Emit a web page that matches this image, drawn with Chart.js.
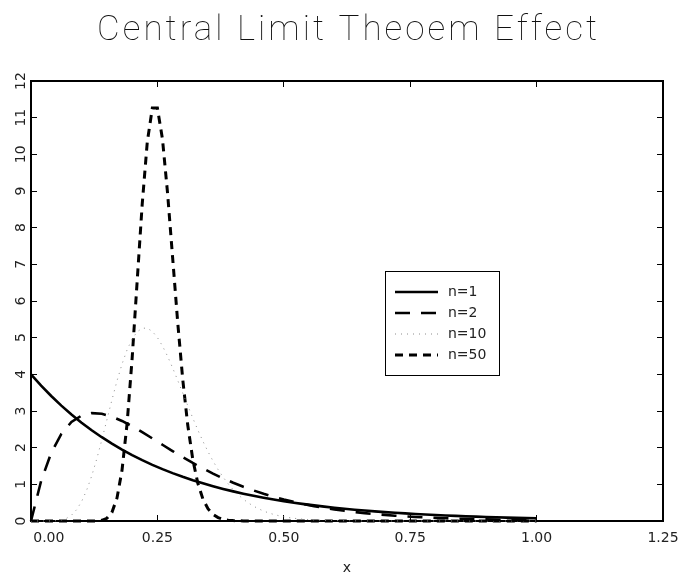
<!DOCTYPE html>
<html>
<head>
<meta charset="utf-8">
<script src="https://cdn.jsdelivr.net/npm/chart.js@4/dist/chart.umd.min.js"></script>
<style>
  html, body { margin: 0; padding: 0; background: #fff; }
  canvas { display: block; }
</style>
</head>
<body>
<canvas id="c" width="679" height="572"></canvas>
<script>
// ---- data ----
const chartTitle = 'Central Limit Theoem Effect';
const xAxisTitle = 'x';
const seriesLabels = ['n=1', 'n=2', 'n=10', 'n=50'];
const xTicks = [0, 0.25, 0.5, 0.75, 1.0, 1.25];
const yTicks = [0,1,2,3,4,5,6,7,8,9,10,11,12];

// x positions used for n=1 and n=2 (step 0.02)
const xCoarse = [0.00,0.02,0.04,0.06,0.08,0.10,0.12,0.14,0.16,0.18,0.20,0.22,0.24,0.26,0.28,0.30,0.32,0.34,0.36,0.38,0.40,0.42,0.44,0.46,0.48,0.50,0.52,0.54,0.56,0.58,0.60,0.62,0.64,0.66,0.68,0.70,0.72,0.74,0.76,0.78,0.80,0.82,0.84,0.86,0.88,0.90,0.92,0.94,0.96,0.98,1.00];
const n1 = [4.000,3.692,3.409,3.147,2.905,2.681,2.475,2.285,2.109,1.947,1.797,1.659,1.532,1.414,1.305,1.205,1.112,1.027,0.948,0.875,0.808,0.745,0.688,0.635,0.586,0.541,0.500,0.461,0.426,0.393,0.363,0.335,0.309,0.285,0.263,0.243,0.225,0.207,0.191,0.177,0.163,0.151,0.139,0.128,0.118,0.109,0.101,0.093,0.086,0.079,0.073];
const n2 = [0.000,1.091,1.859,2.376,2.700,2.876,2.941,2.923,2.847,2.729,2.584,2.422,2.252,2.079,1.908,1.742,1.583,1.433,1.293,1.163,1.043,0.934,0.834,0.742,0.660,0.586,0.520,0.460,0.406,0.359,0.316,0.278,0.245,0.215,0.189,0.166,0.145,0.127,0.111,0.097,0.085,0.074,0.065,0.057,0.049,0.043,0.037,0.033,0.028,0.025,0.021];

// x positions used for n=10 and n=50 (step 0.01 up to 0.70, then 1.00)
const xFine = [0.00,0.01,0.02,0.03,0.04,0.05,0.06,0.07,0.08,0.09,0.10,0.11,0.12,0.13,0.14,0.15,0.16,0.17,0.18,0.19,0.20,0.21,0.22,0.23,0.24,0.25,0.26,0.27,0.28,0.29,0.30,0.31,0.32,0.33,0.34,0.35,0.36,0.37,0.38,0.39,0.40,0.41,0.42,0.43,0.44,0.45,0.46,0.47,0.48,0.49,0.50,0.51,0.52,0.53,0.54,0.55,0.56,0.57,0.58,0.59,0.60,0.61,0.62,0.63,0.64,0.65,0.66,0.67,0.68,0.69,0.70,1.00];
const n10 = [0,0,0,0.0002,0.0015,0.0076,0.026,0.071,0.158,0.306,0.529,0.837,1.227,1.690,2.208,2.754,3.299,3.817,4.279,4.667,4.963,5.161,5.258,5.259,5.170,5.005,4.775,4.496,4.180,3.843,3.495,3.147,2.807,2.482,2.176,1.894,1.636,1.403,1.196,1.013,0.852,0.714,0.594,0.492,0.406,0.333,0.272,0.221,0.179,0.145,0.116,0.093,0.074,0.059,0.047,0.037,0.029,0.023,0.018,0.014,0.011,0.009,0.007,0.005,0.004,0.003,0.002,0.002,0.001,0.001,0.001,0];
const n50 = [0,0,0,0,0,0,0,0,0,0,0,0,0.001,0.004,0.019,0.074,0.235,0.622,1.383,2.650,4.426,6.544,8.650,10.335,11.263,11.263,10.418,8.958,7.204,5.444,3.878,2.616,1.678,1.026,0.600,0.336,0.181,0.094,0.047,0.023,0.011,0.005,0.002,0.001,0,0,0,0,0,0,0,0,0,0,0,0,0,0,0,0,0,0,0,0,0,0,0,0,0,0,0,0];

const toPts = (xs, ys) => xs.map((x, i) => ({ x: x, y: ys[i] }));

const FONT = 'DejaVu Sans';
const TXT = '#222';

const styles = [
  { borderColor: '#000', borderWidth: 2.6, borderDash: [] },
  { borderColor: '#000', borderWidth: 2.6, borderDash: [15, 11] },
  { borderColor: '#8c8c8c', borderWidth: 1, borderDash: [1, 5] },
  { borderColor: '#000', borderWidth: 3, borderDash: [8, 6] }
];

const datasets = [
  toPts(xCoarse, n1), toPts(xCoarse, n2), toPts(xFine, n10), toPts(xFine, n50)
].map((d, i) => Object.assign({
  label: seriesLabels[i],
  data: d,
  pointRadius: 0,
  fill: false,
  tension: 0,
  clip: false
}, styles[i]));

const decorPlugin = {
  id: 'decor',
  beforeDraw(chart) {
    const ctx = chart.ctx;
    ctx.save();
    ctx.fillStyle = '#fff';
    ctx.fillRect(0, 0, chart.width, chart.height);
    ctx.restore();
  },
  afterDraw(chart) {
    const ctx = chart.ctx;
    // title
    ctx.save();
    ctx.fillStyle = '#111';
    ctx.font = '100 35px Roboto';
    ctx.textBaseline = 'alphabetic';
    ctx.textAlign = 'left';
    ctx.letterSpacing = '0px';
    const w = ctx.measureText(chartTitle).width;
    const n = chartTitle.length;
    const target = 500;
    const s = (target - w) / (n - 1);
    ctx.letterSpacing = s + 'px';
    ctx.fillText(chartTitle, 347 - target / 2, 40);
    ctx.restore();

    // legend box
    ctx.save();
    ctx.strokeStyle = '#000';
    ctx.lineWidth = 1;
    ctx.strokeRect(385.5, 271.5, 114, 104);
    const rows = [292, 313, 334, 355];
    chart.data.datasets.forEach((ds, i) => {
      const y = rows[i];
      ctx.save();
      ctx.strokeStyle = ds.borderColor;
      ctx.lineWidth = ds.borderWidth;
      ctx.setLineDash(ds.borderDash || []);
      ctx.beginPath();
      ctx.moveTo(395, y);
      ctx.lineTo(438, y);
      ctx.stroke();
      ctx.restore();
      ctx.fillStyle = TXT;
      ctx.font = '14px ' + FONT;
      ctx.textBaseline = 'middle';
      ctx.textAlign = 'left';
      ctx.fillText(ds.label, 448, y);
    });
    ctx.restore();
  }
};

const tickFont = { family: FONT, size: 14 };

new Chart(document.getElementById('c'), {
  type: 'line',
  data: { datasets: datasets },
  options: {
    responsive: false,
    animation: false,
    layout: { padding: { top: 81, right: 16, left: 0, bottom: 0 } },
    plugins: { legend: { display: false }, title: { display: false }, tooltip: { enabled: false } },
    scales: {
      x: {
        type: 'linear', position: 'bottom', min: 0, max: 1.25,
        afterBuildTicks: s => { s.ticks = xTicks.map(v => ({ value: v })); },
        ticks: {
          autoSkip: false, maxRotation: 0, minRotation: 0, padding: 15, color: TXT, font: tickFont,
          callback: v => (v === 0 ? '\u2007\u2007\u2007\u2007' : '') + Number(v).toFixed(2)
        },
        grid: { drawOnChartArea: false, drawTicks: true, tickLength: -6, color: '#000', lineWidth: 1 },
        border: { display: true, color: '#000', width: 2 },
        title: { display: true, text: xAxisTitle, color: TXT, font: { family: FONT, size: 14 }, padding: { top: 0, bottom: -5 } },
        afterFit: s => { s.height = 51; s.paddingLeft = 0; s.paddingRight = 0; }
      },
      x2: {
        type: 'linear', position: 'top', min: 0, max: 1.25,
        afterBuildTicks: s => { s.ticks = xTicks.map(v => ({ value: v })); },
        ticks: { display: false },
        grid: { drawOnChartArea: false, drawTicks: true, tickLength: -6, color: '#000', lineWidth: 1 },
        border: { display: true, color: '#000', width: 2 },
        afterFit: s => { s.height = 0; s.paddingLeft = 0; s.paddingRight = 0; }
      },
      y: {
        type: 'linear', position: 'left', min: 0, max: 12,
        afterBuildTicks: s => { s.ticks = yTicks.map(v => ({ value: v })); },
        ticks: { autoSkip: false, minRotation: 90, maxRotation: 90, crossAlign: 'center', padding: 7, color: TXT, font: tickFont },
        grid: { drawOnChartArea: false, drawTicks: true, tickLength: -6, color: '#000', lineWidth: 1 },
        border: { display: true, color: '#000', width: 2 },
        afterFit: s => { s.width = 31; s.paddingTop = 0; s.paddingBottom = 0; }
      },
      y2: {
        type: 'linear', position: 'right', min: 0, max: 12,
        afterBuildTicks: s => { s.ticks = yTicks.map(v => ({ value: v })); },
        ticks: { display: false },
        grid: { drawOnChartArea: false, drawTicks: true, tickLength: -6, color: '#000', lineWidth: 1 },
        border: { display: true, color: '#000', width: 2 },
        afterFit: s => { s.width = 0; s.paddingTop = 0; s.paddingBottom = 0; }
      }
    }
  },
  plugins: [decorPlugin]
});
</script>
</body>
</html>
